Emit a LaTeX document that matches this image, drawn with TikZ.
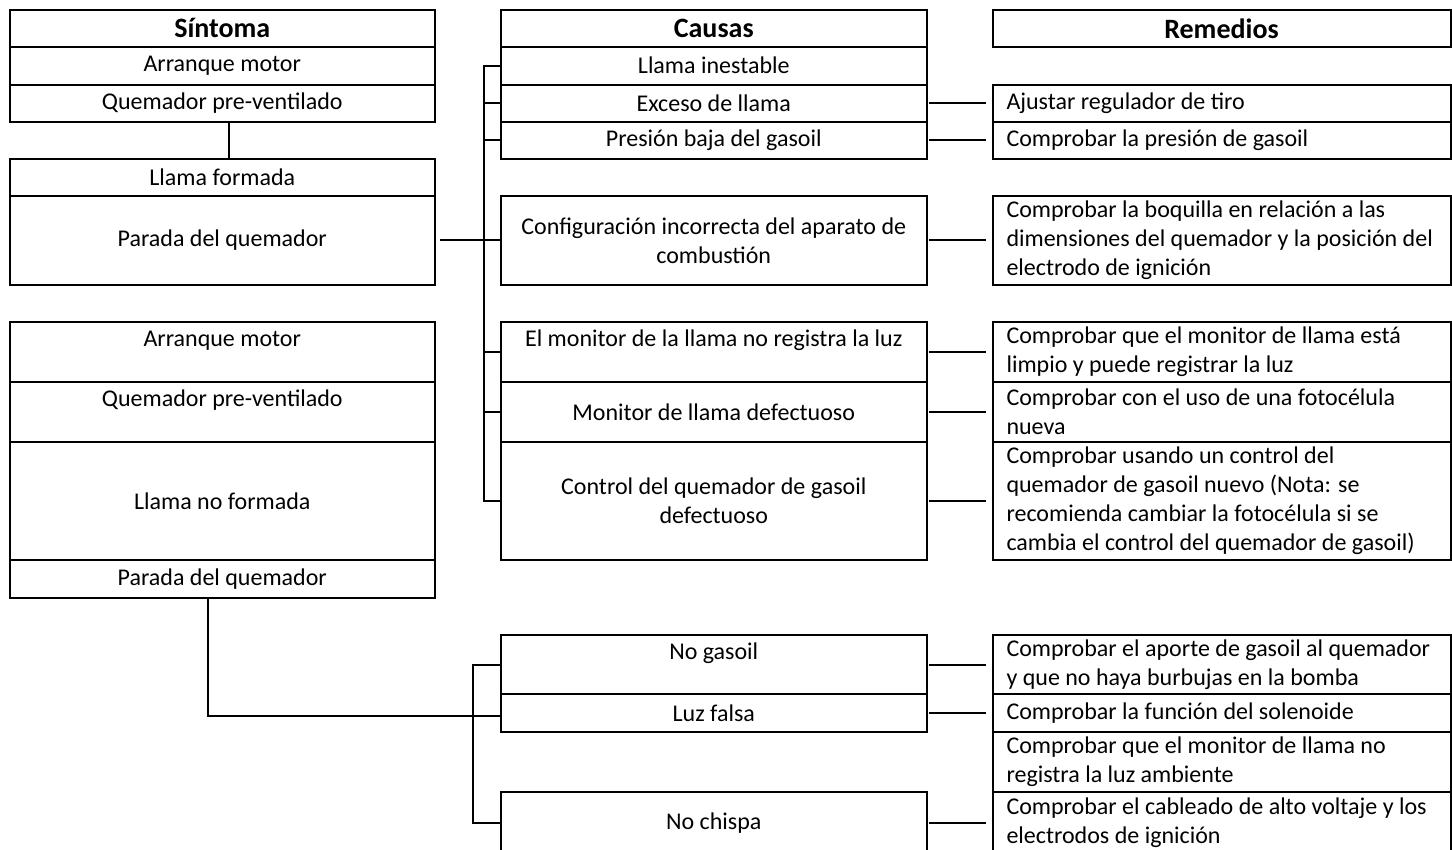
\documentclass[tikz,border=0pt]{standalone}
\usepackage{fontspec}
\setmainfont{Carlito}
\newcommand\cellfont{\fontsize{12}{14.5}\selectfont}
\newcommand\headfont{\fontsize{14}{17}\selectfont\bfseries}
\newcommand\remline[1]{\mbox{#1}}
\begin{document}
\begin{tikzpicture}[x=0.5pt,y=-0.5pt,
  cell/.style={draw, line width=1pt, inner sep=0pt, anchor=north west, align=center, font=\cellfont},
  hdr/.style={cell, font=\headfont},
  lw/.style={minimum width=212.75pt},
  cw/.style={minimum width=213.25pt},
  rem/.style={cell, align=flush left, inner xsep=7pt, text width=215pt, minimum width=229pt},
  topcell/.style={text height=12.25pt, text depth=#1},
  conn/.style={line width=0.95pt},
  gapped/.style={conn, shorten <=0.5pt, shorten >=2.8pt}]
\clip (0,0) rectangle (1452,850);
% ---------- Sintoma column ----------
\node[hdr, lw, minimum height=18.35pt] (sH) at (8.5,9) {Síntoma};
\node[cell, lw, minimum height=19pt] (am1) at (8.5,45.7) {Arranque motor};
\node[cell, lw, minimum height=18.5pt] (qp1) at (8.5,83.7) {Quemador pre-ventilado};
\node[cell, lw, minimum height=18.65pt] (lf) at (8.5,157.7) {Llama formada};
\node[cell, lw, minimum height=44.35pt] (pq1) at (8.5,195) {Parada del quemador};
\node[cell, lw, topcell=17.6pt] (am2) at (8.5,321) {Arranque motor};
\node[cell, lw, topcell=17.9pt] (qp2) at (8.5,380.7) {Quemador pre-ventilado};
\node[cell, lw, minimum height=59.15pt] (lnf) at (8.5,441) {Llama no formada};
\node[cell, lw, minimum height=18.85pt] (pq2) at (8.5,559.3) {Parada del quemador};
% ---------- Causas column ----------
\node[hdr, cw, minimum height=18.35pt] (cH) at (499.5,9) {Causas};
\node[cell, cw, minimum height=19pt] (li) at (499.5,45.7) {Llama inestable};
\node[cell, cw, minimum height=18.5pt] (ex) at (499.5,83.7) {Exceso de llama};
\node[cell, cw, minimum height=18.5pt] (pr) at (499.5,120.7) {Presión baja del gasoil};
\node[cell, cw, minimum height=44.35pt] (cfg) at (499.5,195) {Configuración incorrecta del aparato de\\combustión};
\node[cell, cw, topcell=17.6pt] (mon) at (499.5,321) {El monitor de la llama no registra la luz};
\node[cell, cw, minimum height=30.15pt] (md) at (499.5,380.7) {Monitor de llama defectuoso};
\node[cell, cw, minimum height=59.15pt] (ctl) at (499.5,441) {Control del quemador de gasoil\\defectuoso};
\node[cell, cw, topcell=17.4pt] (ng) at (499.5,634) {No gasoil};
\node[cell, cw, minimum height=18.7pt] (lz) at (499.5,693.3) {Luz falsa};
\node[cell, cw, minimum height=31pt] (nc) at (499.5,791) {No chispa};
% ---------- Remedios column ----------
\node[hdr, minimum width=229pt, minimum height=18.35pt] (rH) at (991.5,9) {Remedios};
\node[rem, minimum height=18.5pt] (aj) at (991.5,83.7) {\remline{Ajustar regulador de tiro}};
\node[rem, minimum height=18.5pt] (cp) at (991.5,120.7) {\remline{Comprobar la presión de gasoil}};
\node[rem, minimum height=44.35pt] (bq) at (991.5,195) {\remline{Comprobar la boquilla en relación a las}\\\remline{dimensiones del quemador y la posición del}\\\remline{electrodo de ignición}};
\node[rem, minimum height=29.85pt] (lm) at (991.5,321) {\remline{Comprobar que el monitor de llama está}\\\remline{limpio y puede registrar la luz}};
\node[rem, minimum height=30.15pt] (ft) at (991.5,380.7) {\remline{Comprobar con el uso de una fotocélula}\\\remline{nueva}};
\node[rem, minimum height=59.15pt] (us) at (991.5,441) {\remline{Comprobar usando un control del}\\\remline{quemador de gasoil nuevo (Nota: se}\\\remline{recomienda cambiar la fotocélula si se}\\\remline{cambia el control del quemador de gasoil)}};
\node[rem, minimum height=29.65pt] (ap) at (991.5,634) {\remline{Comprobar el aporte de gasoil al quemador}\\\remline{y que no haya burbujas en la bomba}};
\node[rem, minimum height=18.7pt] (sol) at (991.5,693.3) {\remline{Comprobar la función del solenoide}};
\node[rem, minimum height=30.15pt] (amb) at (991.5,730.7) {\remline{Comprobar que el monitor de llama no}\\\remline{registra la luz ambiente}};
\node[rem, minimum height=31pt] (cab) at (991.5,791) {\remline{Comprobar el cableado de alto voltaje y los}\\\remline{electrodos de ignición}};
% ---------- connectors ----------
\coordinate (b1) at (483.6,0);
\coordinate (b2) at (473.3,0);
\draw[conn] ([xshift=3.25pt]qp1.south) -- ([xshift=3.25pt]lf.north);
\draw[conn] ([xshift=2pt]pq1.east) -- (cfg.west);
\draw[conn] (li.west) -- (li.west -| b1) -- (ctl.west -| b1) -- (ctl.west);
\foreach \n in {ex,pr,mon,md} \draw[conn] (\n.west -| b1) -- (\n.west);
\foreach \a/\b in {ex/aj,pr/cp,cfg/bq,mon/lm,md/ft,ctl/us,ng/ap,lz/sol,nc/cab}
  \draw[gapped] (\a.east) -- (\b.west);
\draw[conn] ([xshift=-7.1pt]pq2.south) |- ([yshift=-1.5pt]lz.west);
\draw[conn] (ng.west) -- (ng.west -| b2) -- (nc.west -| b2) -- (nc.west);
\end{tikzpicture}
\end{document}
